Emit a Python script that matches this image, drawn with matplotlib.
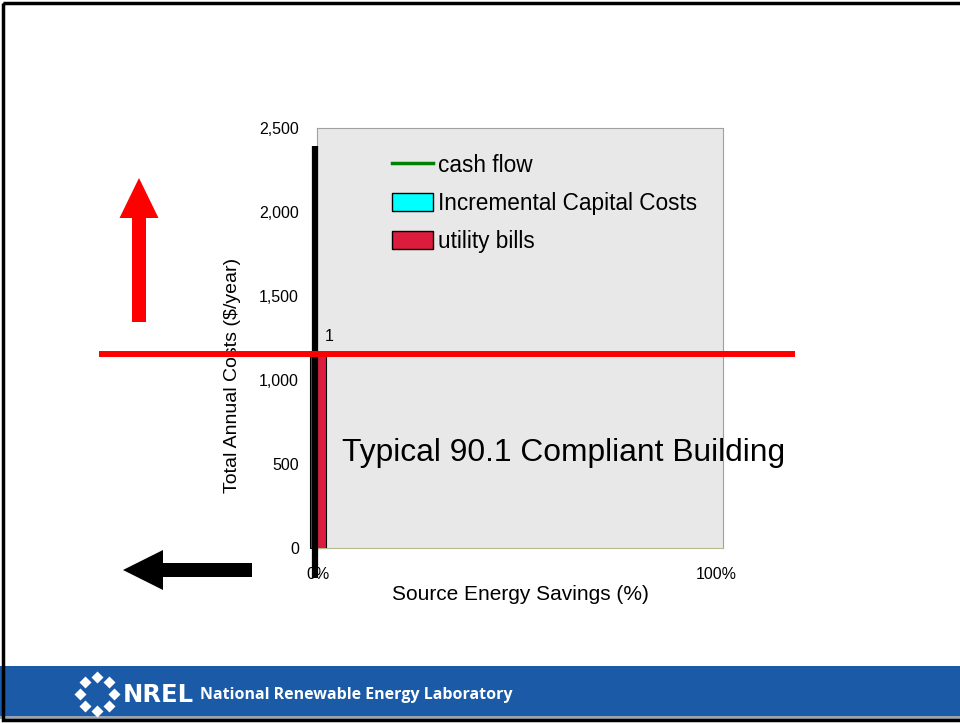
"""Recreate the NREL 'total annual costs vs source energy savings' slide chart."""

import math

import matplotlib

matplotlib.use("Agg")
import matplotlib.pyplot as plt
from matplotlib.lines import Line2D
from matplotlib.patches import FancyArrow, Patch, Rectangle
from matplotlib.ticker import FuncFormatter

plt.rcParams["font.family"] = ["Liberation Sans", "DejaVu Sans"]

# data
savings = [0.0]            # source energy savings (fraction)
utility_bills = [1167]     # $/year
capital_costs = [0]        # $/year
case_labels = ["1"]
y_ticks = [0, 500, 1000, 1500, 2000, 2500]
x_ticks = [0.0, 1.0]
x_tick_labels = ["0%", "100%"]

W, H = 960, 723
fig = plt.figure(figsize=(W / 100, H / 100), dpi=100)
fig.patch.set_facecolor("white")


def px_box(x0, y0, x1, y1):
    """pixel box (top-left origin) -> figure fraction rect"""
    return [x0 / W, 1 - y1 / H, (x1 - x0) / W, (y1 - y0) / H]


ax = fig.add_axes(px_box(317, 128, 723, 548))
ax.set_facecolor("#e8e8e8")
for side in ["top", "left", "right"]:
    ax.spines[side].set_color("#a0a0a0")
ax.spines["bottom"].set_color("#b8b890")

ax.bar(savings, capital_costs, width=0.04, bottom=utility_bills,
       color="cyan", edgecolor="black", linewidth=0.8, clip_on=False)
ax.bar(savings, utility_bills, width=0.04, color="#dc1c3c",
       edgecolor="black", linewidth=0.8, clip_on=False)
for x, y, lab in zip(savings, utility_bills, case_labels):
    ax.annotate(lab, (x + 0.02, y), xytext=(2, 6), textcoords="offset points",
                fontsize=11.5, ha="center", va="bottom")

ax.set_xlim(-0.0025, 1.0176)
ax.set_ylim(0, 2500)
ax.set_yticks(y_ticks)
ax.yaxis.set_major_formatter(FuncFormatter(lambda v, p: f"{int(v):,}"))
ax.set_xticks(x_ticks)
ax.set_xticklabels(x_tick_labels)
ax.tick_params(length=0, labelsize=11.5)
ax.tick_params(axis="y", pad=13)
ax.tick_params(axis="x", pad=14)
ax.set_ylabel("Total Annual Costs ($/year)", fontsize=14)
ax.yaxis.set_label_coords(-0.188, 0.41)
ax.set_xlabel("Source Energy Savings (%)", fontsize=15, labelpad=2)

handles = [
    Line2D([], [], color="#008000", lw=2.5),
    Patch(facecolor="cyan", edgecolor="black"),
    Patch(facecolor="#dc1c3c", edgecolor="black"),
]
ax.legend(handles, ["cash flow", "Incremental Capital Costs", "utility bills"],
          loc="upper left", bbox_to_anchor=(0.163, 0.96), frameon=False,
          fontsize=16.3, handlelength=1.78, handleheight=0.85,
          handletextpad=0.25, labelspacing=0.66, borderaxespad=0)

# slide overlay in pixel coordinates
ov = fig.add_axes([0, 0, 1, 1], zorder=10)
ov.set_xlim(0, W)
ov.set_ylim(H, 0)
ov.axis("off")
ov.patch.set_alpha(0)

ov.plot([315, 315], [146, 578], color="black", lw=4.5, solid_capstyle="butt")
ov.plot([99, 795], [354, 354], color="#ff0000", lw=4.3, solid_capstyle="butt")
ov.add_patch(FancyArrow(139, 322, 0, -144, width=14, head_width=39,
                        head_length=40, length_includes_head=True,
                        color="#ff0000", lw=0))
ov.add_patch(FancyArrow(252, 570, -129, 0, width=14, head_width=40,
                        head_length=40, length_includes_head=True,
                        color="black", lw=0))
ov.text(342, 453, "Typical 90.1 Compliant Building", fontsize=22.9,
        ha="left", va="center")

# footer band
ov.add_patch(Rectangle((0, 666), W, 50, color="#1b5aa6", lw=0))
ov.add_patch(Rectangle((0, 716), W, 3, color="#9aa4b0", lw=0))
for i in range(8):
    a = i * math.pi / 4
    ov.plot(97 + 17 * math.cos(a), 694 + 17 * math.sin(a), marker="D",
            color="white", ms=6, mec="none")
ov.text(123, 695, "NREL", color="white", fontsize=17.5, fontweight="heavy",
        ha="left", va="center", family=["DejaVu Sans"])
ov.text(200, 695, "National Renewable Energy Laboratory", color="white",
        fontsize=11.5, fontweight="bold", ha="left", va="center",
        family=["Open Sans", "DejaVu Sans"])

# slide border
ov.add_patch(Rectangle((3, 3), W, 717, fill=False, edgecolor="black", lw=2.5))

fig.savefig("out.png", dpi=100)
